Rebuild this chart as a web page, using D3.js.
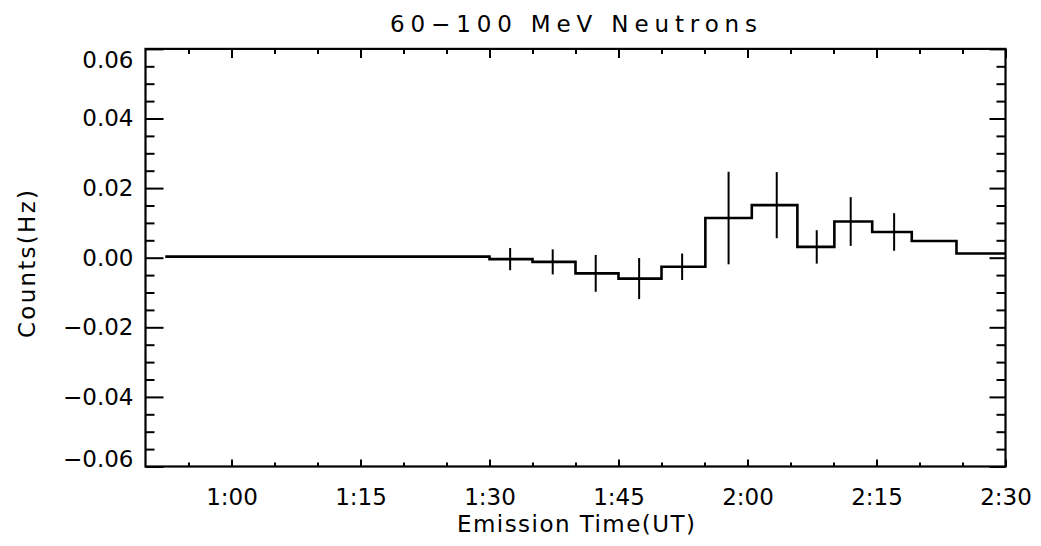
<!DOCTYPE html>
<html>
<head>
<meta charset="utf-8">
<script src="https://cdn.jsdelivr.net/npm/d3@7"></script>
<style>
  html, body { margin: 0; padding: 0; background: #fff; }
  svg { display: block; }
  text { font-family: "DejaVu Sans", sans-serif; fill: #000; }
</style>
</head>
<body>
<svg id="chart" width="1041" height="546"></svg>
<script>
// ---- data (times in minutes after 0:00 UT) ----
const binEdges = [52.3, 90, 95, 100, 105, 110, 115.1, 120.5, 125.8, 130.1, 134.5, 139.1, 144.3, 150];
const binValues = [0.0003, -0.0004, -0.0012, -0.0045, -0.006, -0.0026, 0.0114, 0.0151, 0.0031, 0.0104, 0.0074, 0.0048, 0.0012];
const errTimes = [92.4, 97.35, 102.35, 107.4, 112.4, 117.8, 123.4, 128.05, 132.0, 137.05];
const errValues = [-0.0004, -0.0012, -0.0045, -0.006, -0.0026, 0.0114, 0.0151, 0.0031, 0.0104, 0.0074];
const errSizes = [0.0032, 0.0036, 0.0053, 0.0059, 0.0038, 0.0133, 0.0095, 0.0048, 0.007, 0.0054];
const xTickValues = [60, 75, 90, 105, 120, 135, 150];
const xTickLabels = ["1:00", "1:15", "1:30", "1:45", "2:00", "2:15", "2:30"];
const yTickValues = [-0.06, -0.04, -0.02, 0, 0.02, 0.04, 0.06];
const yTickLabels = ["\u22120.06", "\u22120.04", "\u22120.02", "0.00", "0.02", "0.04", "0.06"];
const titleText = "60\u2212100 MeV Neutrons";
const xLabelText = "Emission Time(UT)";
const yLabelText = "Counts(Hz)";

// ---- layout ----
const L = 145.5, R = 1005.5, T = 48.9, B = 466.5;
const svg = d3.select("#chart");
const x = d3.scaleLinear().domain([50, 150]).range([L, R]);
const y = d3.scaleLinear().domain([-0.06, 0.06]).range([B, T]);

const xMinor = d3.range(55, 150, 5).filter(v => v % 15 !== 0);
const yMinor = d3.range(-0.055, 0.06, 0.005).map(v => +v.toFixed(3)).filter(v => Math.abs(Math.round(v * 1000)) % 20 !== 0);

function styleAxis(g) {
  g.select(".domain").remove();
  g.selectAll(".tick line").attr("stroke", "#000").attr("stroke-width", 2);
  g.selectAll(".tick text").attr("font-size", 23).attr("fill", "#000").attr("font-family", '"DejaVu Sans", sans-serif');
}

// bottom axis (labels)
svg.append("g").attr("transform", `translate(0,${B})`)
  .call(d3.axisBottom(x).tickValues(xTickValues).tickSize(-7).tickPadding(22)
    .tickFormat((d, i) => xTickLabels[i]))
  .call(styleAxis);
svg.append("g").attr("transform", `translate(0,${B})`)
  .call(d3.axisBottom(x).tickValues(xMinor).tickSize(-4).tickFormat(""))
  .call(styleAxis);
// top axis
svg.append("g").attr("transform", `translate(0,${T})`)
  .call(d3.axisTop(x).tickValues(xTickValues).tickSize(-9).tickFormat(""))
  .call(styleAxis);
svg.append("g").attr("transform", `translate(0,${T})`)
  .call(d3.axisTop(x).tickValues(xMinor).tickSize(-5).tickFormat(""))
  .call(styleAxis);
// left axis
const yl = svg.append("g").attr("transform", `translate(${L},0)`)
  .call(d3.axisLeft(y).tickValues(yTickValues).tickSize(-18).tickPadding(12)
    .tickFormat((d, i) => yTickLabels[i]))
  .call(styleAxis);
yl.selectAll(".tick text").attr("dy", d => d === 0.06 ? "0.82em" : d === -0.06 ? "0.02em" : "0.32em");
svg.append("g").attr("transform", `translate(${L},0)`)
  .call(d3.axisLeft(y).tickValues(yMinor).tickSize(-9).tickFormat(""))
  .call(styleAxis);
// right axis
svg.append("g").attr("transform", `translate(${R},0)`)
  .call(d3.axisRight(y).tickValues(yTickValues).tickSize(-16).tickFormat(""))
  .call(styleAxis);
svg.append("g").attr("transform", `translate(${R},0)`)
  .call(d3.axisRight(y).tickValues(yMinor).tickSize(-9).tickFormat(""))
  .call(styleAxis);

// frame
svg.append("rect").attr("x", L).attr("y", T).attr("width", R - L).attr("height", B - T)
  .attr("fill", "none").attr("stroke", "#000").attr("stroke-width", 2.2);

// step histogram
const stepPts = binEdges.map((e, i) => [e, binValues[Math.min(i, binValues.length - 1)]]);
svg.append("path")
  .attr("d", d3.line().x(d => x(d[0])).y(d => y(d[1])).curve(d3.curveStepAfter)(stepPts))
  .attr("fill", "none").attr("stroke", "#000").attr("stroke-width", 2.6);

// error bars
svg.append("g").selectAll("line").data(errTimes).join("line")
  .attr("x1", d => x(d)).attr("x2", d => x(d))
  .attr("y1", (d, i) => y(errValues[i] + errSizes[i]))
  .attr("y2", (d, i) => y(errValues[i] - errSizes[i]))
  .attr("stroke", "#000").attr("stroke-width", 2);

// titles
svg.append("text").attr("x", 573.5).attr("y", 32).attr("text-anchor", "middle")
  .attr("font-size", 23).attr("textLength", 367).attr("lengthAdjust", "spacing").text(titleText);
svg.append("text").attr("x", 576).attr("y", 532).attr("text-anchor", "middle")
  .attr("font-size", 23).attr("textLength", 238).attr("lengthAdjust", "spacing").text(xLabelText);
svg.append("text").attr("transform", "translate(35,264) rotate(-90)").attr("text-anchor", "middle")
  .attr("font-size", 23).attr("textLength", 148).attr("lengthAdjust", "spacing").text(yLabelText);
</script>
</body>
</html>
